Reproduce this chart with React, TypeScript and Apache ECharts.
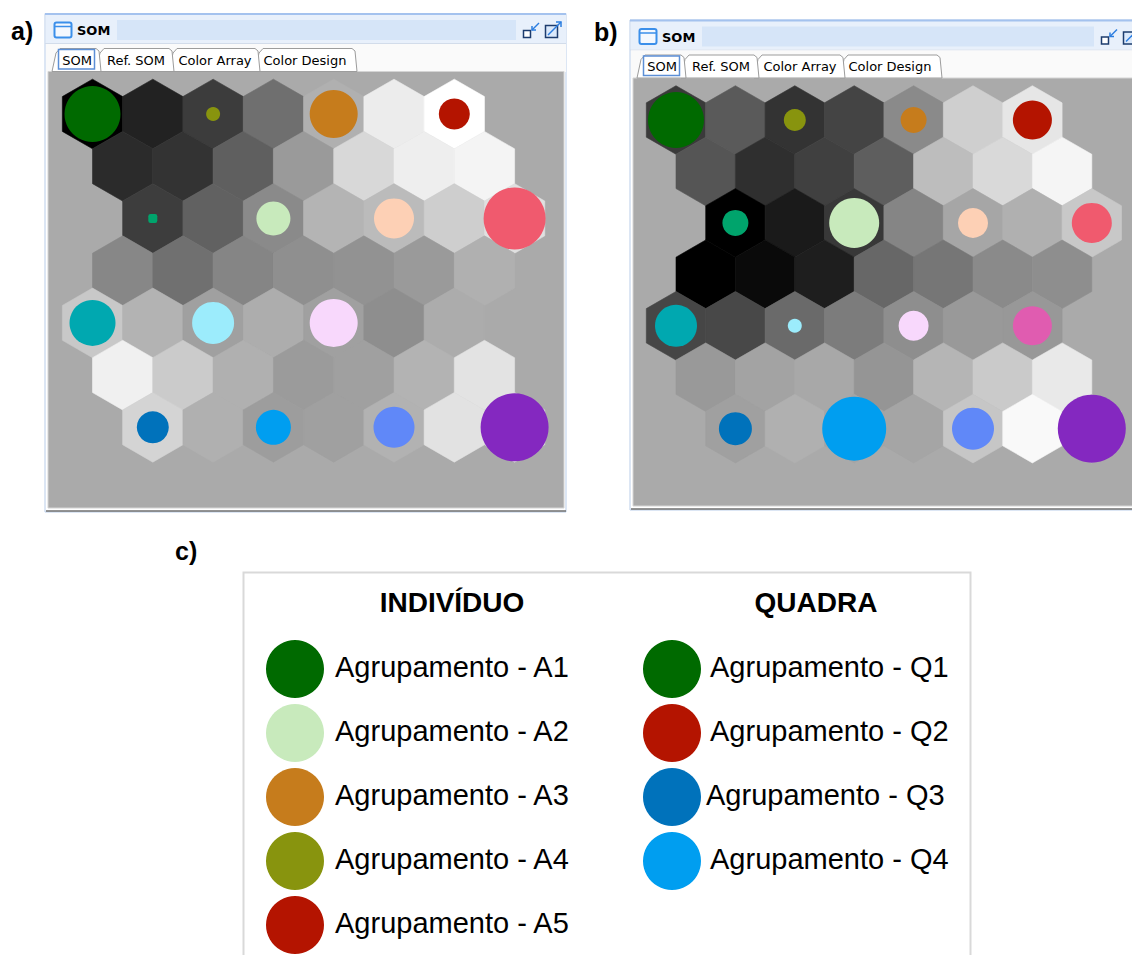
import React, { useEffect, useRef } from "react";
import * as echarts from "echarts";

// ---------------- DATA ----------------
const clusterColors: Record<string, string> = {
  A1: "#006a00",
  A2: "#c8eabc",
  A3: "#c67c1c",
  A4: "#88940e",
  A5: "#b41400",
  Q3: "#0072bb",
  Q4: "#009ef0",
  G2: "#00a46c",
  P1: "#f05a6e",
  P2: "#fdd0b5",
  T1: "#00a8b0",
  C1: "#9cecfc",
  L1: "#f8d8fc",
  M1: "#e05cb0",
  B1: "#6088f8",
  V1: "#8428c0",
};

// grey level of every hexagon (null = no cell), rows top to bottom
const hexGrayA: (number | null)[][] = [
  [0, 34, 60, 111, 176, 236, 255, null],
  [43, 51, 95, 154, 216, 238, 244, null],
  [null, 61, 97, 138, 180, 187, 206, 224],
  [135, 112, 133, 143, 146, 154, 176, null],
  [200, 179, 160, 173, 160, 142, 172, null],
  [240, 203, 176, 155, 160, 179, 227, null],
  [null, 212, 176, 157, 160, 178, 226, 220],
];
const hexGrayB: (number | null)[][] = [
  [58, 90, 51, 68, 138, 207, 230, null],
  [85, 47, 64, 94, 189, 217, 245, null],
  [null, 0, 26, 56, 133, 166, 176, 200],
  [0, 10, 30, 103, 118, 138, 142, null],
  [70, 72, 106, 124, 142, 153, 152, null],
  [153, 163, 168, 149, 181, 202, 233, null],
  [null, 160, 176, 165, 165, 198, 249, 200],
];

// [row, col, radius, cluster]
const circlesA: [number, number, number, string][] = [
  [0, 0, 28, "A1"], [0, 2, 7, "A4"], [0, 4, 24, "A3"], [0, 6, 15.5, "A5"],
  [2, 3, 17, "A2"], [2, 5, 20, "P2"], [2, 7, 31, "P1"],
  [4, 0, 23, "T1"], [4, 2, 21, "C1"], [4, 4, 24, "L1"],
  [6, 1, 16, "Q3"], [6, 3, 17.5, "Q4"], [6, 5, 20.5, "B1"], [6, 7, 34, "V1"],
];
const squaresA: [number, number, number, string][] = [[2, 1, 4.5, "G2"]];
const circlesB: [number, number, number, string][] = [
  [0, 0, 28, "A1"], [0, 2, 11, "A4"], [0, 4, 13, "A3"], [0, 6, 19.5, "A5"],
  [2, 1, 13, "G2"], [2, 3, 25, "A2"], [2, 5, 15, "P2"], [2, 7, 20, "P1"],
  [4, 0, 21, "T1"], [4, 2, 7, "C1"], [4, 4, 15, "L1"], [4, 6, 19.5, "M1"],
  [6, 1, 16.5, "Q3"], [6, 3, 32, "Q4"], [6, 5, 21, "B1"], [6, 7, 34, "V1"],
];

const tabLabels = ["SOM", "Ref. SOM", "Color Array", "Color Design"];
const windowTitle = "SOM";
const panelLabels = ["a)", "b)", "c)"];
const legendHeaders = ["INDIVÍDUO", "QUADRA"];
const legendIndividuo = ["Agrupamento - A1", "Agrupamento - A2", "Agrupamento - A3", "Agrupamento - A4", "Agrupamento - A5"];
const legendIndividuoKeys = ["A1", "A2", "A3", "A4", "A5"];
const legendQuadra = ["Agrupamento - Q1", "Agrupamento - Q2", "Agrupamento - Q3", "Agrupamento - Q4"];
const legendQuadraColors = ["#006a00", "#b41400", "#0072bb", "#009ef0"];

// ---------------- helpers ----------------
const hexData = (rows: (number | null)[][]) => {
  const out: number[][] = [];
  rows.forEach((row, r) =>
    row.forEach((v, c) => {
      if (v !== null) out.push([c + (r % 2) * 0.5, r, v]);
    })
  );
  return out;
};

const markData = (list: [number, number, number, string][]) =>
  list.map(([r, c, rad, key]) => ({
    value: [c + (r % 2) * 0.5, r, rad],
    itemStyle: { color: clusterColors[key], opacity: 1 },
  }));

const renderHex = (_p: any, api: any) => {
  const g = Math.round(api.value(2));
  const pt = api.coord([api.value(0), api.value(1)]);
  const sx = api.size([1, 0])[0];
  const R = sx / Math.sqrt(3);
  const pts: number[][] = [];
  for (let k = 0; k < 6; k++) {
    const a = (Math.PI / 180) * (60 * k - 90);
    pts.push([pt[0] + R * Math.cos(a), pt[1] + R * Math.sin(a)]);
  }
  const col = `rgb(${g},${g},${g})`;
  return { type: "polygon", shape: { points: pts }, style: { fill: col, stroke: col, lineWidth: 0.6 } };
};

const FONT_UI = "DejaVu Sans";
const FONT_DOC = "Liberation Sans, Arial, sans-serif";

function buildWindow(ox: number, oy: number, orx: number, contentBottom: number): any[] {
  const L = 45 + ox;
  const R = 566 + orx;
  const els: any[] = [];
  els.push({ type: "rect", z: 0, shape: { x: L, y: 13.5 + oy, width: R - L, height: contentBottom + 4 - (13.5 + oy) }, style: { fill: "#ffffff", stroke: "#b9cde9", lineWidth: 1 } });
  // title bar
  els.push({ type: "rect", z: 0, shape: { x: L + 1, y: 14 + oy, width: R - L - 1, height: 29 }, style: { fill: "#e8f0fb" } });
  els.push({ type: "line", z: 0, shape: { x1: L, y1: 14 + oy, x2: R, y2: 14 + oy }, style: { stroke: "#a4c2ee", lineWidth: 2 } });
  els.push({ type: "line", z: 0, shape: { x1: L, y1: 43.5 + oy, x2: R, y2: 43.5 + oy }, style: { stroke: "#d2dcea", lineWidth: 1 } });
  // window icon
  els.push({ type: "rect", z: 1, shape: { x: 54.5 + ox, y: 22.5 + oy, width: 17, height: 15, r: 2 }, style: { fill: "#f4f8fe", stroke: "#3b8fea", lineWidth: 2 } });
  els.push({ type: "line", z: 1, shape: { x1: 55 + ox, y1: 26.5 + oy, x2: 71 + ox, y2: 26.5 + oy }, style: { stroke: "#3b8fea", lineWidth: 1.5 } });
  els.push({ type: "text", z: 1, x: 77 + ox, y: 30.5 + oy, style: { text: windowTitle, fill: "#000", font: `bold 13px ${FONT_UI}`, verticalAlign: "middle" } });
  // dotted band
  els.push({ type: "rect", z: 0, shape: { x: 117 + ox, y: 20 + oy, width: 516 + orx - (117 + ox), height: 20 }, style: { fill: "#d6e5f8" } });
  // restore icon
  const rx = 523 + orx;
  els.push({ type: "rect", z: 1, shape: { x: rx + 0.5, y: 30.5 + oy, width: 7, height: 7 }, style: { fill: "#fff", stroke: "#1d3c6e", lineWidth: 1.5 } });
  els.push({ type: "line", z: 1, shape: { x1: rx + 16, y1: 23 + oy, x2: rx + 9, y2: 30 + oy }, style: { stroke: "#2b7de0", lineWidth: 1.5 } });
  els.push({ type: "polyline", z: 1, shape: { points: [[rx + 9, 26 + oy], [rx + 9, 30 + oy], [rx + 13, 30 + oy]] }, style: { stroke: "#2b7de0", lineWidth: 1.5, fill: "none" } });
  // maximize icon
  const mx = 545 + orx;
  els.push({ type: "rect", z: 1, shape: { x: mx + 0.5, y: 25.5 + oy, width: 12, height: 12 }, style: { fill: "#dbe9fb", stroke: "#1d3c6e", lineWidth: 1.5 } });
  els.push({ type: "line", z: 1, shape: { x1: mx + 3, y1: 35 + oy, x2: mx + 16, y2: 22 + oy }, style: { stroke: "#2b7de0", lineWidth: 1.5 } });
  els.push({ type: "polyline", z: 1, shape: { points: [[mx + 11, 22 + oy], [mx + 16, 22 + oy], [mx + 16, 27 + oy]] }, style: { stroke: "#2b7de0", lineWidth: 1.5, fill: "none" } });
  // tab strip
  els.push({ type: "rect", z: 0, shape: { x: L + 1, y: 44 + oy, width: R - L - 1, height: 28 }, style: { fill: "#fafafa" } });
  const edges = [55, 99, 172, 258, 355];
  const centers = [77, 136, 215, 305];
  for (let i = tabLabels.length - 1; i >= 0; i--) {
    const a = edges[i] + ox;
    const b = edges[i + 1] + ox;
    els.push({
      type: "polygon", z: 1,
      shape: { points: [[a - 3, 71.5 + oy], [a + 1, 53 + oy], [a + 5, 48.5 + oy], [b - 3, 48.5 + oy], [b, 51 + oy], [b + 2, 71.5 + oy]] },
      style: { fill: "#ffffff", stroke: "#9c9c9c", lineWidth: 1 },
    });
    els.push({ type: "text", z: 2, x: centers[i] + ox, y: 60 + oy, style: { text: tabLabels[i], fill: "#000", font: `13px ${FONT_UI}`, align: "center", verticalAlign: "middle" } });
  }
  els.push({ type: "rect", z: 2, shape: { x: 58.5 + ox, y: 49.5 + oy, width: 36, height: 19.5 }, style: { fill: "none", stroke: "#5c8fd6", lineWidth: 1.5 } });
  // content background
  els.push({ type: "rect", z: 0, shape: { x: 48 + ox, y: 71.5 + oy, width: 564 + orx - (48 + ox), height: contentBottom - (71.5 + oy) }, style: { fill: "#aaaaaa", stroke: "#d4d4d4", lineWidth: 1 } });
  els.push({ type: "line", z: 1, shape: { x1: L + 1, y1: contentBottom + 3, x2: R, y2: contentBottom + 3 }, style: { stroke: "#6f6f6f", lineWidth: 1.5 } });
  return els;
}

function buildLegend(): any[] {
  const els: any[] = [];
  els.push({ type: "rect", z: 0, shape: { x: 243.5, y: 572.5, width: 727, height: 400 }, style: { fill: "#ffffff", stroke: "#d9d9d9", lineWidth: 2 } });
  els.push({ type: "text", z: 1, x: 452, y: 602, style: { text: legendHeaders[0], fill: "#000", font: `bold 28px ${FONT_DOC}`, align: "center", verticalAlign: "middle" } });
  els.push({ type: "text", z: 1, x: 816, y: 602, style: { text: legendHeaders[1], fill: "#000", font: `bold 28px ${FONT_DOC}`, align: "center", verticalAlign: "middle" } });
  legendIndividuo.forEach((t, i) => {
    const cy = 669 + i * 64;
    els.push({ type: "circle", z: 1, shape: { cx: 295, cy, r: 29 }, style: { fill: clusterColors[legendIndividuoKeys[i]] } });
    els.push({ type: "text", z: 1, x: 335, y: cy - 2, style: { text: t, fill: "#000", font: `29px ${FONT_DOC}`, verticalAlign: "middle" } });
  });
  legendQuadra.forEach((t, i) => {
    const cy = 669 + i * 64;
    els.push({ type: "circle", z: 1, shape: { cx: 672, cy, r: 29 }, style: { fill: legendQuadraColors[i] } });
    els.push({ type: "text", z: 1, x: i === 2 ? 706 : 710, y: cy - 2, style: { text: t, fill: "#000", font: `29px ${FONT_DOC}`, verticalAlign: "middle" } });
  });
  return els;
}

export default function App() {
  const ref = useRef<HTMLDivElement>(null);
  useEffect(() => {
    if (!ref.current) return;
    const chart = echarts.init(ref.current, undefined, { renderer: "svg" });
    const hexSeries = (idx: number, rows: (number | null)[][]) => ({
      type: "custom", xAxisIndex: idx, yAxisIndex: idx, z: 3, clip: false, silent: true,
      renderItem: renderHex, data: hexData(rows),
    });
    const dotSeries = (idx: number, list: [number, number, number, string][], symbol: string) => ({
      type: "scatter", xAxisIndex: idx, yAxisIndex: idx, z: 4, silent: true, symbol,
      symbolSize: (v: number[]) => v[2] * 2, data: markData(list), clip: false,
      itemStyle: { opacity: 1 },
    });
    const axisHidden = { type: "value", show: false, splitLine: { show: false } };
    const option: any = {
      animation: false,
      backgroundColor: "#ffffff",
      grid: [
        { left: 92.5, top: 114, width: 7.5 * 60.3, height: 6 * 52.22 },
        { left: 676, top: 120, width: 7.5 * 59.4, height: 6 * 51.44 },
      ],
      xAxis: [
        { ...axisHidden, gridIndex: 0, min: 0, max: 7.5 },
        { ...axisHidden, gridIndex: 1, min: 0, max: 7.5 },
      ],
      yAxis: [
        { ...axisHidden, gridIndex: 0, min: 0, max: 6, inverse: true },
        { ...axisHidden, gridIndex: 1, min: 0, max: 6, inverse: true },
      ],
      series: [
        hexSeries(0, hexGrayA),
        dotSeries(0, circlesA, "circle"),
        dotSeries(0, squaresA, "roundRect"),
        hexSeries(1, hexGrayB),
        dotSeries(1, circlesB, "circle"),
      ],
      graphic: {
        elements: [
          ...buildWindow(0, 0, 0, 508),
          ...buildWindow(585, 6.5, 578, 506),
          ...buildLegend(),
          { type: "text", z: 2, x: 11, y: 31, style: { text: panelLabels[0], fill: "#000", font: `bold 25px ${FONT_DOC}`, verticalAlign: "middle" } },
          { type: "text", z: 2, x: 594, y: 32, style: { text: panelLabels[1], fill: "#000", font: `bold 25px ${FONT_DOC}`, verticalAlign: "middle" } },
          { type: "text", z: 2, x: 175, y: 551, style: { text: panelLabels[2], fill: "#000", font: `bold 25px ${FONT_DOC}`, verticalAlign: "middle" } },
        ],
      },
    };
    chart.setOption(option);
    return () => chart.dispose();
  }, []);
  return <div ref={ref} style={{ position: "fixed", left: 0, top: 0, width: 1132, height: 955 }} />;
}
